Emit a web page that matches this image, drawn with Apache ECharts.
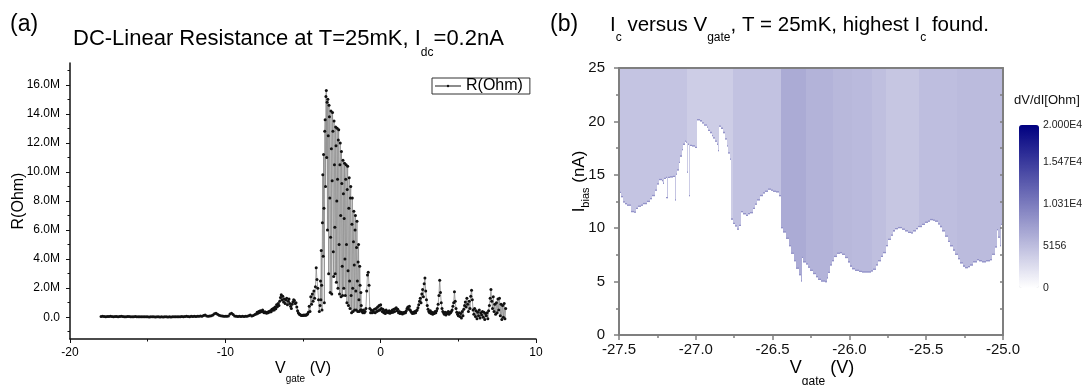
<!DOCTYPE html>
<html>
<head>
<meta charset="utf-8">
<script src="https://cdn.jsdelivr.net/npm/echarts@6/dist/echarts.min.js"></script>
<style>
  html, body { margin: 0; padding: 0; background: #fff; }
  #chart { width: 1086px; height: 385px; }
</style>
</head>
<body>
<div id="chart"></div>
<script>
// ---------- panel (a): R(Ohm) vs Vgate, values in MOhm ----------
// each segment is sampled on its own gate grid (start, step)
const segStart = [-18.0, -8.0, -3.9, -1.2, -0.45]
const segStep = [0.1, 0.05, 0.025, 0.05, 0.05]

const rFlat = [
  0.05, 0.06, 0.05, 0.04, 0.05, 0.05, 0.06, 0.05, 0.04, 0.05,
  0.05, 0.04, 0.05, 0.06, 0.05, 0.04, 0.04, 0.05, 0.05, 0.04,
  0.03, 0.04, 0.05, 0.04, 0.03, 0.04, 0.04, 0.03, 0.04, 0.03,
  0.03, 0.02, 0.03, 0.04, 0.03, 0.02, 0.03, 0.03, 0.02, 0.03,
  0.02, 0.03, 0.03, 0.02, 0.03, 0.02, 0.03, 0.04, 0.03, 0.04,
  0.03, 0.04, 0.05, 0.04, 0.05, 0.06, 0.05, 0.04, 0.06, 0.05,
  0.06, 0.05, 0.07, 0.06, 0.08, 0.07, 0.11, 0.15, 0.09, 0.07,
  0.08, 0.10, 0.16, 0.24, 0.27, 0.21, 0.14, 0.10, 0.08, 0.07,
  0.06, 0.07, 0.09, 0.22, 0.27, 0.18, 0.09, 0.06, 0.05, 0.06,
  0.05, 0.06, 0.05, 0.07, 0.06, 0.10, 0.16, 0.09, 0.12, 0.18
]
const rRise = [
  0.22, 0.35, 0.28, 0.40, 0.32, 0.45, 0.38, 0.42, 0.50, 0.36,
  0.30, 0.38, 0.33, 0.28, 0.35, 0.31, 0.40, 0.36, 0.45, 0.38,
  0.55, 0.48, 0.62, 0.50, 0.70, 0.58, 0.85, 0.72, 0.95, 0.80,
  1.10, 1.35, 1.55, 1.20, 1.45, 1.05, 1.25, 0.95, 1.20, 1.30,
  0.85, 1.10, 1.25, 0.95, 0.75, 0.60, 0.90, 1.05, 1.20, 1.15,
  0.95, 1.00, 0.70, 0.45, 0.30, 0.22, 0.18, 0.15, 0.12, 0.14,
  0.12, 0.15, 0.13, 0.16, 0.14, 0.18, 0.22, 0.35, 0.75, 0.40,
  1.40, 0.90, 1.60, 1.10, 1.80, 1.30, 2.10, 3.40, 2.60, 2.00,
  1.20, 0.40
]
const rPeak = [
  0.8, 2.5, 1.2, 4.6, 2.2, 0.5, 6.5, 9.8, 4.2, 11.2,
  7.5, 1.0, 12.8, 13.6, 9.0, 15.2, 15.6, 11.0, 14.8, 6.0,
  15.0, 12.5, 3.0, 14.6, 13.8, 8.2, 1.7, 5.5, 14.2, 11.6,
  1.6, 9.4, 14.1, 12.8, 4.5, 2.8, 13.5, 10.5, 6.2, 3.0,
  13.1, 11.8, 2.4, 8.0, 13.0, 9.5, 2.0, 12.2, 12.9, 5.0,
  1.6, 10.5, 12.0, 7.0, 1.4, 11.4, 9.2, 3.5, 1.5, 10.8,
  8.5, 2.0, 6.8, 10.6, 4.0, 1.5, 9.5, 10.5, 5.0, 1.0,
  8.8, 10.4, 3.2, 0.8, 7.5, 9.6, 2.5, 0.6, 8.2, 9.0,
  1.5, 0.3, 6.4, 8.2, 2.0, 0.4, 5.2, 7.3, 3.6, 0.5,
  6.0, 7.0, 1.8, 0.5, 4.8, 6.6, 2.5, 0.4, 3.8, 5.0,
  1.2, 0.4, 3.5, 2.2, 0.5, 1.7, 0.8, 0.5
]
const rTail = [
  0.40, 0.30, 0.50, 0.30, 0.40, 0.60, 1.80, 2.90, 3.10, 2.20,
  0.60, 0.30, 0.50, 0.30, 0.45
]
const rPos = [
  0.35, 0.55, 0.30, 0.60, 0.40, 0.70, 0.45, 0.80, 0.50, 0.85,
  0.60, 0.40, 0.55, 0.30, 0.45, 0.25, 0.50, 0.35, 0.40, 0.30,
  0.45, 0.28, 0.40, 0.32, 0.50, 0.35, 0.55, 0.40, 0.60, 0.65,
  0.45, 0.55, 0.30, 0.40, 0.25, 0.35, 0.30, 0.22, 0.32, 0.28,
  0.35, 0.30, 0.45, 0.60, 0.70, 0.55, 0.75, 0.50, 0.40, 0.30,
  0.25, 0.35, 0.28, 0.40, 0.30, 0.45, 0.50, 0.65, 0.85, 1.10,
  1.30, 1.00, 1.60, 1.90, 1.40, 2.30, 2.70, 1.80, 1.20, 0.80,
  0.55, 0.40, 0.30, 0.45, 0.25, 0.35, 0.20, 0.30, 0.25, 0.40,
  0.30, 0.45, 0.60, 0.90, 1.50, 2.55, 1.70, 1.00, 0.60, 0.40,
  0.30, 0.20, 0.35, 0.15, 0.30, 0.25, 0.40, 0.20, 0.35, 0.30,
  0.40, 0.50, 0.75, 1.00, 1.75, 1.10, 0.60, 0.35, 0.20, 0.10,
  0.30, 0.05, 0.25, -0.05, 0.40, 0.10, 0.55, 0.80, 1.05, 0.70,
  1.30, 0.90, 0.40, 1.10, 0.60, 1.45, 1.85, 1.20, 0.50, 0.20,
  0.60, 0.05, 0.45, -0.10, 0.35, 0.10, 0.50, -0.05, 0.30, 0.15,
  0.40, 0.00, 0.35, -0.15, 0.25, 0.10, 0.30, -0.10, 0.45, 0.80,
  1.30, 1.90, 1.10, 0.60, 1.40, 0.40, 0.90, 0.20, 1.00, 0.30,
  1.25, 0.50, 1.30, 0.10, 0.90, -0.15, 0.80, 0.00, 0.95, -0.10,
  0.60
]
const rTicks = [0, 2, 4, 6, 8, 10, 12, 14, 16]
const rMinorTicks = [-1, 1, 3, 5, 7, 9, 11, 13, 15, 17]

// ---------- panel (b): Ic boundary and normal-state dV/dI ----------
// Ibias below icI[i] is superconducting (dV/dI = 0) from icV[i] to icV[i+1]
const icV = [
  -27.500, -27.490, -27.475, -27.461, -27.445, -27.425, -27.405, -27.390, -27.374, -27.355,
  -27.342, -27.320, -27.298, -27.285, -27.266, -27.255, -27.240, -27.218, -27.215, -27.207,
  -27.196, -27.192, -27.184, -27.165, -27.150, -27.135, -27.127, -27.120, -27.110, -27.100,
  -27.090, -27.081, -27.070, -27.062, -27.057, -27.050, -27.045, -27.037, -27.027, -27.005,
  -26.992, -26.975, -26.962, -26.945, -26.929, -26.918, -26.908, -26.897, -26.886, -26.875,
  -26.864, -26.856, -26.850, -26.835, -26.821, -26.810, -26.799, -26.788, -26.777, -26.768,
  -26.755, -26.745, -26.734, -26.720, -26.705, -26.690, -26.675, -26.660, -26.647, -26.630,
  -26.615, -26.600, -26.582, -26.565, -26.549, -26.528, -26.510, -26.495, -26.475, -26.456,
  -26.445, -26.430, -26.415, -26.396, -26.380, -26.362, -26.345, -26.328, -26.318, -26.310,
  -26.300, -26.285, -26.270, -26.257, -26.240, -26.220, -26.203, -26.185, -26.160, -26.145,
  -26.137, -26.125, -26.115, -26.100, -26.083, -26.061, -26.045, -26.029, -26.012, -25.996,
  -25.980, -25.964, -25.940, -25.920, -25.877, -25.860, -25.844, -25.828, -25.812, -25.795,
  -25.779, -25.763, -25.747, -25.730, -25.714, -25.700, -25.685, -25.660, -25.640, -25.617,
  -25.600, -25.584, -25.568, -25.551, -25.530, -25.508, -25.490, -25.475, -25.458, -25.443,
  -25.425, -25.410, -25.395, -25.378, -25.360, -25.345, -25.328, -25.312, -25.296, -25.280,
  -25.263, -25.247, -25.230, -25.215, -25.195, -25.171, -25.155, -25.139, -25.110, -25.085,
  -25.070, -25.055, -25.042, -25.030, -25.020, -25.014, -25.005
]
const icI = [
  13.3, 12.9, 12.4, 12.25, 12.1, 11.5, 11.45, 11.8, 12.0, 12.1,
  12.25, 12.45, 12.7, 13.0, 13.5, 14.1, 14.5, 14.4, 14.15, 14.6,
  14.7, 12.8, 14.7, 14.75, 14.8, 12.6, 15.0, 15.4, 16.1, 16.7,
  17.3, 17.8, 18.1, 18.0, 15.2, 17.8, 13.0, 17.7, 17.65, 17.5,
  20.1, 20.0, 19.8, 19.6, 19.4, 19.1, 18.9, 18.6, 18.4, 18.1,
  17.8, 17.2, 19.5, 19.3, 18.9, 18.3, 17.65, 17.0, 16.4, 10.8,
  10.4, 10.15, 9.85, 10.2, 11.5, 11.3, 11.15, 11.3, 11.4, 11.8,
  12.2, 12.6, 13.0, 13.25, 13.4, 13.6, 13.5, 13.4, 13.35, 13.0,
  10.0, 9.6, 9.0, 8.3, 7.6, 6.9, 6.2, 5.6, 5.0, 7.2,
  6.8, 6.6, 6.3, 6.0, 5.7, 5.4, 5.15, 5.0, 4.95, 5.3,
  5.8, 6.5, 6.9, 7.3, 7.6, 7.66, 7.5, 7.2, 6.8, 6.4,
  6.15, 6.0, 5.9, 5.85, 5.85, 5.95, 6.1, 6.5, 6.9, 7.3,
  7.66, 8.3, 8.9, 9.3, 9.7, 9.9, 10.0, 9.85, 9.7, 9.55,
  9.5, 9.7, 9.9, 10.1, 10.3, 10.5, 10.6, 10.75, 10.7, 10.6,
  10.35, 10.1, 9.7, 9.2, 8.7, 8.3, 7.9, 7.5, 7.1, 6.7,
  6.4, 6.25, 6.35, 6.5, 6.8, 7.0, 6.9, 6.8, 6.9, 7.0,
  7.5, 8.2, 9.8, 9.1, 8.3, 10.3, 10.6
]
// vertical bands of normal-state dV/dI (Ohm)
const bandV = [-27.5, -27.06, -26.76, -26.447, -26.28, -26.11, -25.98, -25.85, -25.76, -25.55, -25.3, -25.0]
const bandR = [4600, 3900, 4800, 6600, 6000, 5600, 5400, 5000, 4500, 5100, 5300]
// dV/dI peak right at the switching current
const switchR = 8500
const switchWidth = 0.12

const cbTicks = [0, 5156, 10310, 15470, 20000]
const cbLabels = ['0', '5156', '1.031E4', '1.547E4', '2.000E4']

// ---------- build ----------
const F = '"Liberation Sans", Arial, sans-serif'
const segs = [rFlat, rRise, rPeak, rTail, rPos]
const rData = []
segs.forEach((vals, s) => {
  vals.forEach((r, i) => rData.push([+(segStart[s] + i * segStep[s]).toFixed(3), r]))
})

const nextV = i => (i + 1 < icV.length ? icV[i + 1] : -25.0)
const bandData = bandR.map((r, i) => [bandV[i], bandV[i + 1], 25, 0, r])
const scData = icV.map((v, i) => [v, nextV(i), icI[i], 0, 0])
const edgeData = icV.map((v, i) => [v, nextV(i), icI[i] + switchWidth, icI[i], switchR])

// snap columns to whole pixels so neighbours meet without seams
function cellRect(params, api) {
  const a = api.coord([api.value(0), api.value(2)])
  const b = api.coord([api.value(1), api.value(3)])
  const x0 = Math.round(a[0])
  const x1 = Math.max(Math.round(b[0]), x0 + 1)
  return {
    type: 'rect',
    shape: { x: x0, y: a[1], width: x1 - x0, height: b[1] - a[1] },
    style: { fill: api.visual('color') }
  }
}

const greyAx = '#7f7f7f'
const txt = (size, lh, extra) => Object.assign({ fontSize: size, lineHeight: lh, fontWeight: 'normal', color: '#000', fontFamily: F }, extra || {})
const chart = echarts.init(document.getElementById('chart'))

chart.setOption({
  animation: false,
  backgroundColor: '#fff',
  textStyle: { fontFamily: F },
  title: [
    { text: '(a)', left: 10, top: 13, padding: 0, textStyle: txt(23, 24) },
    { text: '{m|DC-Linear Resistance at T=25mK, I}{s|dc}{m|=0.2nA}', left: 73, top: 27, padding: 0,
      textStyle: { fontWeight: 'normal', rich: { m: txt(22, 24), s: txt(12, 12, { padding: [28, 0, 0, 0] }) } } },
    { text: '(b)', left: 550, top: 13, padding: 0, textStyle: txt(23, 24) },
    { text: '{m|I}{s|c}{m| versus V}{s|gate}{m|, T = 25mK, highest I}{s|c}{m| found.}', left: 610, top: 13, padding: 0,
      textStyle: { fontWeight: 'normal', rich: { m: txt(20.5, 24), s: txt(12, 12, { padding: [26, 0, 0, 0] }) } } },
    { text: 'dV/dI[Ohm]', left: 1014, top: 93, padding: 0, textStyle: txt(13, 14, { color: '#111' }) }
  ],
  legend: {
    data: ['R(Ohm)'], left: 432, top: 78, orient: 'horizontal',
    padding: [0, 7, 0, 2], borderColor: '#333', borderWidth: 1, borderRadius: 0,
    itemWidth: 26, itemHeight: 3,
    textStyle: { fontSize: 16, lineHeight: 16, color: '#000', fontFamily: F }
  },
  grid: [
    { left: 70, top: 63, width: 466, height: 276, outerBoundsMode: 'none' },
    { left: 619, top: 68, width: 384, height: 267, outerBoundsMode: 'none' },
    { left: 1019, top: 125, width: 20, height: 163, outerBoundsMode: 'none' }
  ],
  visualMap: {
    type: 'continuous', min: 0, max: 20000, dimension: 4, seriesIndex: [1, 2, 3],
    inRange: { color: ['#ffffff', '#000080'] },
    left: 1019, top: 125, itemWidth: 20, itemHeight: 163, padding: 0,
    calculable: false, text: null, hoverLink: false
  },
  xAxis: [
    { gridIndex: 0, type: 'value', min: -20, max: 10, interval: 10,
      name: '{m|V}{s|gate}{m| (V)}', nameLocation: 'middle', nameGap: 21, nameMoveOverlap: false,
      nameTextStyle: { rich: { m: txt(16, 18), s: txt(10, 10, { padding: [20, 0, 0, 0] }) } },
      axisLine: { onZero: false, lineStyle: { color: '#111', width: 1.5 } },
      axisTick: { length: 4, lineStyle: { color: '#111' } },
      minorTick: { show: true, splitNumber: 2, length: 2.5, lineStyle: { color: '#111' } },
      splitLine: { show: false },
      axisLabel: { fontSize: 12, color: '#000', margin: 8 } },
    { gridIndex: 1, type: 'value', min: -27.5, max: -25, interval: 0.5, z: 5,
      name: '{m|V}{s|gate}{m| (V)}', nameLocation: 'middle', nameGap: 23, nameMoveOverlap: false,
      nameTextStyle: { padding: [0, 0, 0, 22], rich: { m: txt(18, 20), s: txt(12, 12, { padding: [27, 0, 0, 0] }) } },
      axisLine: { onZero: false, lineStyle: { color: greyAx, width: 2 } },
      axisTick: { length: 5, lineStyle: { color: greyAx, width: 1.5 } },
      minorTick: { show: true, splitNumber: 2, length: 3, lineStyle: { color: greyAx, width: 1.5 } },
      splitLine: { show: false },
      axisLabel: { fontSize: 15, color: '#111', margin: 7, formatter: v => v.toFixed(1) } },
    { gridIndex: 1, type: 'value', position: 'top', min: -27.5, max: -25, z: 5,
      axisLine: { onZero: false, lineStyle: { color: greyAx, width: 2 } },
      axisTick: { show: false }, axisLabel: { show: false }, splitLine: { show: false } },
    { gridIndex: 2, type: 'value', show: false, min: 0, max: 1 }
  ],
  yAxis: [
    { gridIndex: 0, type: 'value', position: 'left', min: -1.5, max: 17.5,
      name: 'R(Ohm)', nameLocation: 'middle', nameGap: 42, nameMoveOverlap: false,
      nameTextStyle: txt(16, 18),
      axisLine: { show: true, onZero: false, lineStyle: { color: '#111', width: 1.5 } },
      axisTick: { show: true, length: 4, customValues: rTicks, lineStyle: { color: '#111' } },
      axisLabel: { fontSize: 12, color: '#000', margin: 10, customValues: rTicks,
        formatter: v => v === 0 ? '0.0' : v.toFixed(1) + 'M' },
      splitLine: { show: false } },
    { gridIndex: 0, type: 'value', position: 'left', min: -1.5, max: 17.5,
      axisLine: { show: false, onZero: false },
      axisTick: { show: true, length: 2.5, customValues: rMinorTicks, lineStyle: { color: '#111' } },
      axisLabel: { show: false }, splitLine: { show: false } },
    { gridIndex: 1, type: 'value', position: 'left', min: 0, max: 25, interval: 5, z: 5,
      name: '{m|I}{s|bias}{m| (nA)}', nameLocation: 'middle', nameGap: 30, nameMoveOverlap: false,
      nameTextStyle: { padding: [0, 0, 0, 40], rich: { m: txt(17, 20), s: txt(11, 11, { padding: [13, 0, 0, 0] }) } },
      axisLine: { show: true, onZero: false, lineStyle: { color: greyAx, width: 2 } },
      axisTick: { show: true, length: 5, lineStyle: { color: greyAx, width: 1.5 } },
      minorTick: { show: true, splitNumber: 2, length: 3, lineStyle: { color: greyAx, width: 1.5 } },
      axisLabel: { fontSize: 15, color: '#111', margin: 14 },
      splitLine: { show: false } },
    { gridIndex: 1, type: 'value', position: 'right', min: 0, max: 25, interval: 2.5, z: 5,
      axisLine: { show: true, onZero: false, lineStyle: { color: greyAx, width: 2 } },
      axisTick: { show: true, inside: true, length: 3, lineStyle: { color: greyAx, width: 1.5 } },
      axisLabel: { show: false }, splitLine: { show: false } },
    { gridIndex: 2, type: 'value', position: 'right', min: 0, max: 20000,
      axisLine: { show: false }, axisTick: { show: false }, splitLine: { show: false },
      axisLabel: { fontSize: 10.5, color: '#222', margin: 4, customValues: cbTicks,
        formatter: v => cbLabels[cbTicks.indexOf(v)] } }
  ],
  series: [
    { name: 'R(Ohm)', type: 'line', xAxisIndex: 0, yAxisIndex: 0, data: rData,
      symbol: 'circle', symbolSize: 3, showSymbol: true, showAllSymbol: true,
      lineStyle: { color: '#8c8c8c', width: 0.8 },
      itemStyle: { color: '#111' }, silent: true },
    { type: 'custom', xAxisIndex: 1, yAxisIndex: 2, data: bandData, renderItem: cellRect,
      encode: { x: [0, 1], y: [2, 3] }, clip: true, silent: true },
    { type: 'custom', xAxisIndex: 1, yAxisIndex: 2, data: scData, renderItem: cellRect,
      encode: { x: [0, 1], y: [2, 3] }, clip: true, silent: true },
    { type: 'custom', xAxisIndex: 1, yAxisIndex: 2, data: edgeData, renderItem: cellRect,
      encode: { x: [0, 1], y: [2, 3] }, clip: true, silent: true }
  ]
})
</script>
</body>
</html>
